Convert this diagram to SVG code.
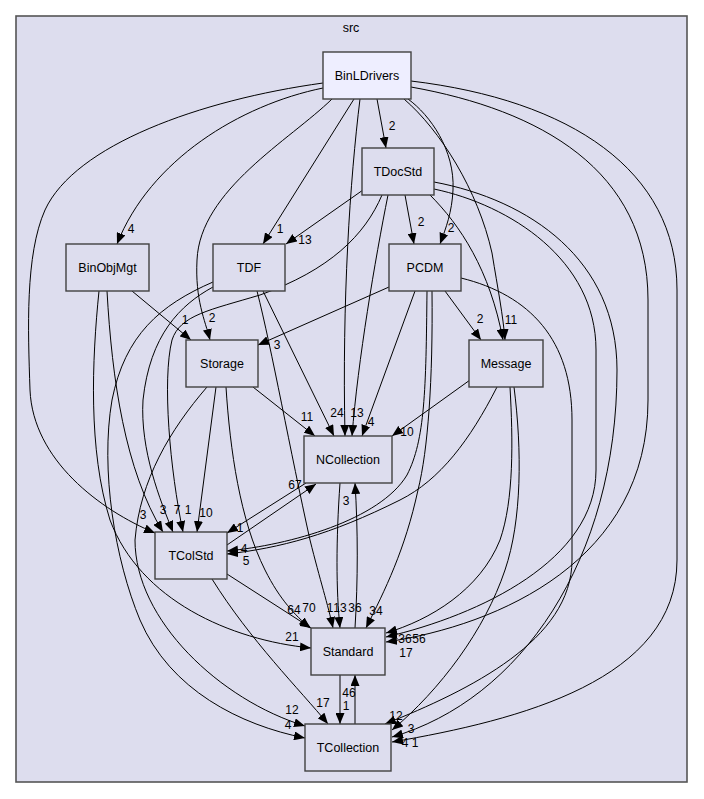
<svg xmlns="http://www.w3.org/2000/svg" width="704" height="799" viewBox="0 0 704 799">
<defs>
<marker id="a" viewBox="0 0 11 9" refX="11" refY="4.5" markerWidth="11" markerHeight="9" orient="auto" markerUnits="userSpaceOnUse"><path d="M0,0 L11,4.5 L0,9 z" fill="#000"/></marker>
<style>
.bg{fill:#ffffff}
.cl{fill:#ddddee;stroke:#555;stroke-width:1.6}
.n rect{fill:#ddddee;stroke:#404040;stroke-width:1.4}
#BinLDrivers rect{fill:#eeeeff}
text{font-family:"Liberation Sans",Arial,Helvetica,sans-serif;font-size:12.5px;text-anchor:middle;fill:#000}
.e path{fill:none;stroke:#000;stroke-width:1;marker-end:url(#a)}
.lb text{font-size:12px}
</style>
</defs>
<rect class="bg" x="0" y="0" width="704" height="799"/>
<g id="cluster_src">
<rect class="cl" x="16" y="16" width="671" height="766"/>
<text x="351" y="32">src</text>
</g>
<g id="edges" class="e">
<path d="M377,99 L386,148"/>
<path d="M323,88 C240,105 150,160 117,244"/>
<path d="M323,83 C200,100 75,145 45,210 C25,255 28,330 30,390 C33,460 100,510 155,533"/>
<path d="M332,99 C290,140 200,190 197,260 C195,300 205,320 210,340"/>
<path d="M354,99 L263,244"/>
<path d="M360,99 C350,180 342,300 345,436"/>
<path d="M408,99 C430,115 455,150 453,190 C452,212 446,228 440,244"/>
<path d="M404,99 C440,130 478,190 492,253 C498,290 503,315 505,340"/>
<path d="M411,87 C540,110 648,170 648,300 L648,400 C648,560 500,625 386,642"/>
<path d="M411,81 C570,100 677,170 677,290 L677,560 C677,680 520,720 392,742"/>
<path d="M363,190 L286,244"/>
<path d="M405,195 L414,244"/>
<path d="M388,195 C375,260 358,360 352,436"/>
<path d="M382,195 C365,235 330,270 260,295 C210,310 180,315 172,340 C162,380 170,470 183,532"/>
<path d="M430,195 C460,225 490,270 503,340"/>
<path d="M434,189 C510,205 596,260 596,350 L596,470 C596,560 480,615 386,637"/>
<path d="M434,182 C530,200 617,260 617,370 C617,560 520,700 392,737"/>
<path d="M389,287 L258,345"/>
<path d="M445,291 L481,340"/>
<path d="M415,291 L362,436"/>
<path d="M427,291 C426,390 425,440 407,475 C380,520 290,545 227,551"/>
<path d="M432,291 C433,380 428,450 418,490 C405,550 385,590 366,628"/>
<path d="M461,278 C530,295 572,340 572,420 L572,560 C572,640 470,690 385,724"/>
<path d="M253,387 L315,436"/>
<path d="M216,387 L197,532"/>
<path d="M226,387 C230,450 240,520 265,570 C280,600 295,615 310,628"/>
<path d="M207,387 C170,430 140,480 135,540 C135,620 220,700 305,726"/>
<path d="M132,291 L191,340"/>
<path d="M107,291 C112,380 125,470 163,532"/>
<path d="M99,291 C92,360 88,450 110,520 C140,600 230,640 311,648"/>
<path d="M213,287 C180,305 150,335 143,400 C140,450 160,500 173,532"/>
<path d="M213,282 C160,305 125,335 112,400 C100,470 115,560 140,620 C170,690 240,725 305,738"/>
<path d="M263,291 L334,436"/>
<path d="M257,291 C272,350 290,450 310,540 C320,580 328,605 333,628"/>
<path d="M340,483 C336,540 336,590 340,628"/>
<path d="M355,628 C358,580 358,530 355,483"/>
<path d="M306,483 L227,533"/>
<path d="M227,545 L316,484"/>
<path d="M227,574 L311,628"/>
<path d="M340,675 L340,724"/>
<path d="M355,724 L355,675"/>
<path d="M212,579 C250,640 300,690 328,724"/>
<path d="M470,380 L392,436"/>
<path d="M497,387 C470,440 440,480 400,500 C330,535 280,548 227,554"/>
<path d="M510,387 C513,440 514,500 500,540 C480,590 430,620 386,633"/>
<path d="M514,387 C522,450 522,520 505,570 C485,630 440,690 392,730"/>
</g>
<g id="edge_labels" class="lb">
<text x="392" y="130">2</text>
<text x="131" y="233">4</text>
<text x="143" y="519">3</text>
<text x="212" y="322">2</text>
<text x="280" y="233">1</text>
<text x="305" y="244">13</text>
<text x="421" y="226">2</text>
<text x="451" y="232">2</text>
<text x="185" y="324">1</text>
<text x="277" y="349">3</text>
<text x="480" y="323">2</text>
<text x="511" y="324">11</text>
<text x="307" y="421">11</text>
<text x="337" y="417">24</text>
<text x="357" y="417">13</text>
<text x="371" y="426">4</text>
<text x="407" y="436">10</text>
<text x="163" y="514">3</text>
<text x="177" y="514">7</text>
<text x="188" y="514">1</text>
<text x="206" y="517">10</text>
<text x="295" y="489">67</text>
<text x="240" y="532">1</text>
<text x="244" y="553">4</text>
<text x="246" y="565">5</text>
<text x="346" y="505">3</text>
<text x="294" y="614">64</text>
<text x="309" y="612">70</text>
<text x="292" y="641">21</text>
<text x="330" y="612">1</text>
<text x="340" y="612">13</text>
<text x="355" y="612">36</text>
<text x="376" y="615">34</text>
<text x="405" y="643">36</text>
<text x="419" y="643">56</text>
<text x="406" y="657">17</text>
<text x="349" y="697">46</text>
<text x="346" y="710">1</text>
<text x="323" y="707">17</text>
<text x="292" y="714">12</text>
<text x="288" y="729">4</text>
<text x="396" y="720">12</text>
<text x="411" y="733">3</text>
<text x="405" y="747">4</text>
<text x="415" y="747">1</text>
</g>
<g id="BinLDrivers" class="n"><rect x="323" y="52" width="88" height="47"/><text x="367" y="80">BinLDrivers</text></g>
<g id="TDocStd" class="n"><rect x="362" y="148" width="72" height="47"/><text x="398" y="176">TDocStd</text></g>
<g id="BinObjMgt" class="n"><rect x="66" y="244" width="83" height="47"/><text x="107.5" y="272">BinObjMgt</text></g>
<g id="TDF" class="n"><rect x="213" y="244" width="72" height="47"/><text x="249" y="272">TDF</text></g>
<g id="PCDM" class="n"><rect x="389" y="244" width="72" height="47"/><text x="425" y="272">PCDM</text></g>
<g id="Storage" class="n"><rect x="186" y="340" width="72" height="47"/><text x="222" y="368">Storage</text></g>
<g id="Message" class="n"><rect x="469" y="340" width="74" height="47"/><text x="506" y="368">Message</text></g>
<g id="NCollection" class="n"><rect x="304" y="436" width="88" height="47"/><text x="348" y="464">NCollection</text></g>
<g id="TColStd" class="n"><rect x="155" y="532" width="72" height="47"/><text x="191" y="560">TColStd</text></g>
<g id="Standard" class="n"><rect x="311" y="628" width="74" height="47"/><text x="348" y="656">Standard</text></g>
<g id="TCollection" class="n"><rect x="305" y="724" width="86" height="47"/><text x="348" y="752">TCollection</text></g>
</svg>
